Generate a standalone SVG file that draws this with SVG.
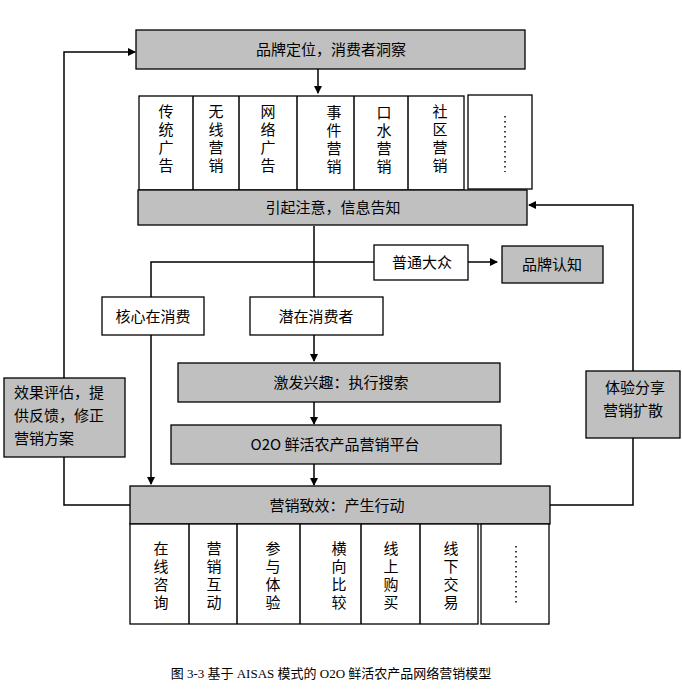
<svg xmlns="http://www.w3.org/2000/svg" width="682" height="699" viewBox="0 0 682 699">
<defs>
<style>
.g{fill:#c0c0c0;stroke:#000;stroke-width:1.3}
.w{fill:#fff;stroke:#000;stroke-width:1.3}
.t{font-family:"Noto Sans CJK SC",sans-serif;font-size:15px;fill:#000}
.m{text-anchor:middle}
.v{font-family:"Noto Sans CJK SC",sans-serif;font-size:15px;fill:#000;text-anchor:start;writing-mode:tb;glyph-orientation-vertical:0;letter-spacing:3px}
.l{fill:none;stroke:#000;stroke-width:1.5}
</style>
<marker id="a" markerWidth="8" markerHeight="8" refX="7" refY="4" orient="auto" markerUnits="userSpaceOnUse"><path d="M0,0 L8,4 L0,8z" fill="#000"/></marker>
</defs>
<rect width="682" height="699" fill="#fff"/>
<g id="connectors">
<path class="l" d="M318,69 V93" marker-end="url(#a)"/>
<path class="l" d="M314,226 V361" marker-end="url(#a)"/>
<path class="l" d="M374,262 H151 V297"/>
<path class="l" d="M468,262 H497" marker-end="url(#a)"/>
<path class="l" d="M151,335 V484" marker-end="url(#a)"/>
<path class="l" d="M314,402 V424" marker-end="url(#a)"/>
<path class="l" d="M314,464 V485" marker-end="url(#a)"/>
<path class="l" d="M64,378 V52 H135" marker-end="url(#a)"/>
<path class="l" d="M64,457 V505 H130"/>
<path class="l" d="M633,371 V205 H529" marker-end="url(#a)"/>
<path class="l" d="M633,438 V505 H550"/>
</g>
<g id="n1"><rect class="g" x="136" y="30" width="389" height="39"/><text class="t m" x="331" y="55">品牌定位，消费者洞察</text></g>
<g id="media">
<rect class="w" x="139" y="96" width="325" height="94"/>
<path class="l" d="M193,96 V190 M239,96 V190 M297,96 V190 M354,96 V190 M408,96 V190"/>
<rect class="w" x="468" y="95" width="64" height="94"/>
<text class="v" x="166" y="104">传统广告</text>
<text class="v" x="216" y="104">无线营销</text>
<text class="v" x="268" y="104">网络广告</text>
<text class="v" x="334" y="105">事件营销</text>
<text class="v" x="384" y="105">口水营销</text>
<text class="v" x="440" y="104">社区营销</text>
<path d="M505,116 V172" stroke="#000" stroke-width="1.5" stroke-dasharray="1.5,3.5"/>
</g>
<g id="n2"><rect class="g" x="138" y="190" width="389" height="35"/><text class="t m" x="333" y="213">引起注意，信息告知</text></g>
<g id="n3"><rect class="w" x="374" y="245" width="94" height="35"/><text class="t m" x="422" y="268">普通大众</text></g>
<g id="n4"><rect class="g" x="502" y="246" width="101" height="37"/><text class="t m" x="552" y="270">品牌认知</text></g>
<g id="n5"><rect class="w" x="102" y="297" width="102" height="38"/><text class="t m" x="153" y="322">核心在消费</text></g>
<g id="n6"><rect class="w" x="250" y="297" width="133" height="38"/><text class="t m" x="316" y="322">潜在消费者</text></g>
<g id="n7"><rect class="g" x="178" y="363" width="322" height="39"/><text class="t m" x="341" y="388">激发兴趣：执行搜索</text></g>
<g id="n8"><rect class="g" x="171" y="425" width="330" height="39"/><text class="t m" x="335" y="450">O2O 鲜活农产品营销平台</text></g>
<g id="n9"><rect class="g" x="4" y="378" width="121" height="79"/><text class="t" x="14" y="398">效果评估，提</text><text class="t" x="14" y="421">供反馈，修正</text><text class="t" x="14" y="444">营销方案</text></g>
<g id="n10"><rect class="g" x="586" y="371" width="94" height="67"/><text class="t m" x="635" y="393">体验分享</text><text class="t m" x="633" y="416">营销扩散</text></g>
<g id="n11"><rect class="g" x="130" y="486" width="420" height="38"/><text class="t m" x="337" y="511">营销致效：产生行动</text></g>
<g id="actions">
<rect class="w" x="130" y="524" width="348" height="100"/>
<path class="l" d="M189,524 V624 M237,524 V624 M300,524 V624 M361,524 V624 M420,524 V624"/>
<rect class="w" x="481" y="524" width="68" height="100"/>
<text class="v" x="161" y="541">在线咨询</text>
<text class="v" x="214" y="541">营销互动</text>
<text class="v" x="273" y="541">参与体验</text>
<text class="v" x="339" y="541">横向比较</text>
<text class="v" x="391" y="541">线上购买</text>
<text class="v" x="451" y="541">线下交易</text>
<path d="M516,546 V603" stroke="#000" stroke-width="1.5" stroke-dasharray="1.5,3.5"/>
</g>
<text x="331" y="678" text-anchor="middle" font-family="Liberation Serif,Noto Sans CJK SC,serif" font-size="13">图  3-3 基于 AISAS 模式的 O2O 鲜活农产品网络营销模型</text>
</svg>
